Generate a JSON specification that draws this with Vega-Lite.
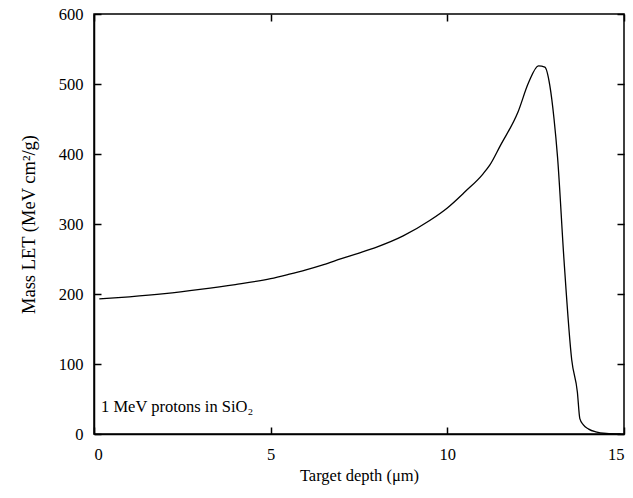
{
  "$schema": "https://vega.github.io/schema/vega-lite/v6.json",
  "width": 530,
  "height": 420,
  "autosize": "none",
  "padding": {"left": 94, "top": 14, "right": 9, "bottom": 64},
  "background": "white",
  "config": {
    "view": {"stroke": "black", "strokeWidth": 1.5},
    "font": "Liberation Serif",
    "axis": {
      "grid": false,
      "zindex": 1,
      "domainColor": "black",
      "domainWidth": 1.5,
      "ticks": true,
      "tickColor": "black",
      "tickWidth": 1.5,
      "tickSize": -7,
      "labelColor": "black",
      "titleColor": "black",
      "labelFont": "Liberation Serif",
      "titleFont": "Liberation Serif",
      "labelFontSize": 16.5,
      "titleFontSize": 16.5,
      "titleFontWeight": "normal"
    }
  },
  "data": {
    "values": [
      {"depth": 0.15, "let": 193},
      {"depth": 1, "let": 196},
      {"depth": 2, "let": 200.5},
      {"depth": 3, "let": 206.5},
      {"depth": 4, "let": 213.5},
      {"depth": 5, "let": 222},
      {"depth": 5.5, "let": 228},
      {"depth": 6, "let": 234.5},
      {"depth": 6.5, "let": 242},
      {"depth": 7, "let": 250.5},
      {"depth": 7.5, "let": 258.5},
      {"depth": 8, "let": 267},
      {"depth": 8.75, "let": 283},
      {"depth": 9.5, "let": 305},
      {"depth": 10, "let": 323},
      {"depth": 10.5, "let": 346},
      {"depth": 11, "let": 371},
      {"depth": 11.2, "let": 384},
      {"depth": 11.5, "let": 412},
      {"depth": 12, "let": 460},
      {"depth": 12.3, "let": 502},
      {"depth": 12.58, "let": 526},
      {"depth": 12.76, "let": 524},
      {"depth": 12.9, "let": 498},
      {"depth": 13.02, "let": 450},
      {"depth": 13.12, "let": 395},
      {"depth": 13.3, "let": 250},
      {"depth": 13.52, "let": 106},
      {"depth": 13.68, "let": 60},
      {"depth": 13.75, "let": 22},
      {"depth": 13.85, "let": 13},
      {"depth": 14.0, "let": 7},
      {"depth": 14.2, "let": 3},
      {"depth": 14.5, "let": 0.7},
      {"depth": 14.9, "let": 0}
    ]
  },
  "layer": [
    {
      "mark": {"type": "line", "color": "black", "strokeWidth": 1.3, "interpolate": "monotone"},
      "encoding": {
        "x": {"field": "depth", "type": "quantitative", "scale": {"domain": [0, 15], "nice": false},
          "axis": {"values": [0, 5, 10, 15], "title": "Target depth (μm)", "labelPadding": 19, "titlePadding": 5}},
        "y": {"field": "let", "type": "quantitative", "scale": {"domain": [0, 600], "nice": false},
          "axis": {"values": [0, 100, 200, 300, 400, 500, 600], "title": "Mass LET (MeV cm²/g)", "titleFontSize": 18.5, "labelPadding": 18, "titlePadding": 20}}
      }
    },
    {
      "data": {"values": [{"depth": 0.2, "let": 38, "label": "1 MeV protons in SiO₂"}]},
      "mark": {"type": "text", "align": "left", "baseline": "middle", "font": "Liberation Serif", "fontSize": 16.5, "color": "black"},
      "encoding": {
        "x": {"field": "depth", "type": "quantitative", "axis": {"orient": "top", "values": [0, 5, 10, 15], "labels": false, "title": null, "domain": false}},
        "y": {"field": "let", "type": "quantitative", "axis": {"orient": "right", "values": [0, 100, 200, 300, 400, 500, 600], "labels": false, "title": null, "domain": false}},
        "text": {"field": "label"}
      }
    }
  ],
  "resolve": {"axis": {"x": "independent", "y": "independent"}}
}
